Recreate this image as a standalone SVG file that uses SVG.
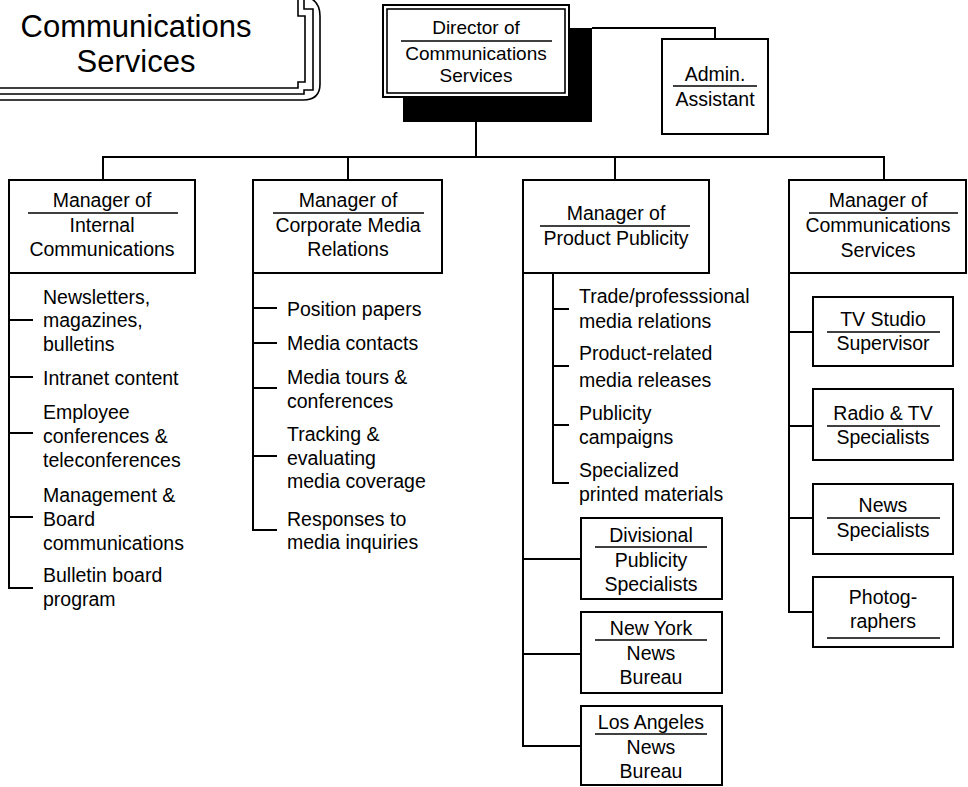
<svg xmlns="http://www.w3.org/2000/svg" width="968" height="787" viewBox="0 0 968 787">
<style>
  text { font-family: "Liberation Sans", Arial, sans-serif; font-size: 19.5px; fill: #000; }
  .c { text-anchor: middle; }
  .box { fill: #fff; stroke: #000; stroke-width: 2; }
  .ln { fill: none; stroke: #000; stroke-width: 2; }
  .ul { stroke: #000; stroke-width: 1.6; }
  .frame { fill: none; stroke: #000; stroke-width: 1.6; }
</style>
<rect width="968" height="787" fill="#fff"/>

<!-- title banner: triple frame with notched right corners -->
<g id="title">
  <path class="frame" d="M -5,88 H 298 V 82 H 305 V 16 H 298 V -5"/>
  <path class="frame" d="M -5,94 H 304 V 90 H 313 V 9 H 304 V -5"/>
  <path class="frame" d="M -5,100 H 303 Q 320,100 320,84 V 16 Q 320,0 305,-4"/>
  <text class="c" x="136" y="37" style="font-size:31px">Communications</text>
  <text class="c" x="136" y="72" style="font-size:31px">Services</text>
</g>

<!-- connectors -->
<g id="connectors" class="ln">
  <path d="M 592,28 H 715 V 39"/>
  <path d="M 476,122 V 157"/>
  <path d="M 103,180 V 157 H 884 V 180"/>
  <path d="M 348,157 V 180"/>
  <path d="M 615,157 V 180"/>
  <!-- internal communications list -->
  <path d="M 9,273 V 588 H 33"/>
  <path d="M 9,320 H 33 M 9,377 H 33 M 9,433 H 33 M 9,517 H 33"/>
  <!-- media relations list -->
  <path d="M 253,273 V 530 H 277"/>
  <path d="M 253,308 H 277 M 253,343 H 277 M 253,388 H 277 M 253,456 H 277"/>
  <!-- product publicity list and units -->
  <path d="M 553,273 V 483 H 569"/>
  <path d="M 553,309 H 569 M 553,366 H 569 M 553,425 H 569"/>
  <path d="M 523,273 V 746 H 581"/>
  <path d="M 523,559 H 581 M 523,654 H 581"/>
  <!-- communications services units -->
  <path d="M 789,273 V 612 H 813"/>
  <path d="M 789,332 H 813 M 789,426 H 813 M 789,518 H 813"/>
</g>

<g id="director">
  <rect x="403" y="28" width="189" height="94" fill="#000"/>
  <rect class="box" x="383" y="5" width="186" height="92"/>
  <rect x="387" y="9" width="178" height="84" fill="none" stroke="#000" stroke-width="1.6"/>
  <text class="c" x="476" y="34" style="font-size:19px">Director of</text>
  <line class="ul" x1="401" y1="41" x2="552" y2="41"/>
  <text class="c" x="476" y="60" style="font-size:19px">Communications</text>
  <text class="c" x="476" y="82" style="font-size:19px">Services</text>
</g>

<g id="admin">
  <rect class="box" x="662" y="39" width="106" height="95"/>
  <text class="c" x="715" y="81">Admin.</text>
  <line class="ul" x1="673" y1="86" x2="757" y2="86"/>
  <text class="c" x="715" y="106">Assistant</text>
</g>

<g id="mgr-internal">
  <rect class="box" x="9" y="180" width="186" height="93"/>
  <text class="c" x="102" y="207">Manager of</text>
  <line class="ul" x1="28" y1="213" x2="178" y2="213"/>
  <text class="c" x="102" y="232">Internal</text>
  <text class="c" x="102" y="256">Communications</text>
</g>

<g id="mgr-media">
  <rect class="box" x="253" y="180" width="189" height="93"/>
  <text class="c" x="348" y="207">Manager of</text>
  <line class="ul" x1="273" y1="213" x2="424" y2="213"/>
  <text class="c" x="348" y="232">Corporate Media</text>
  <text class="c" x="348" y="256">Relations</text>
</g>

<g id="mgr-publicity">
  <rect class="box" x="523" y="180" width="186" height="93"/>
  <text class="c" x="616" y="220">Manager of</text>
  <line class="ul" x1="540" y1="226" x2="690" y2="226"/>
  <text class="c" x="616" y="245">Product Publicity</text>
</g>

<g id="mgr-services">
  <rect class="box" x="789" y="180" width="177" height="93"/>
  <text class="c" x="878" y="207">Manager of</text>
  <line class="ul" x1="809" y1="213" x2="958" y2="213"/>
  <text class="c" x="878" y="232">Communications</text>
  <text class="c" x="878" y="257">Services</text>
</g>

<g id="list-internal">
  <text x="43" y="304">Newsletters,</text>
  <text x="43" y="327">magazines,</text>
  <text x="43" y="351">bulletins</text>
  <text x="43" y="385">Intranet content</text>
  <text x="43" y="419">Employee</text>
  <text x="43" y="443">conferences &amp;</text>
  <text x="43" y="467">teleconferences</text>
  <text x="43" y="502">Management &amp;</text>
  <text x="43" y="526">Board</text>
  <text x="43" y="550">communications</text>
  <text x="43" y="582">Bulletin board</text>
  <text x="43" y="606">program</text>
</g>

<g id="list-media">
  <text x="287" y="316">Position papers</text>
  <text x="287" y="350">Media contacts</text>
  <text x="287" y="384">Media tours &amp;</text>
  <text x="287" y="408">conferences</text>
  <text x="287" y="441">Tracking &amp;</text>
  <text x="287" y="465">evaluating</text>
  <text x="287" y="488">media coverage</text>
  <text x="287" y="526">Responses to</text>
  <text x="287" y="549">media inquiries</text>
</g>

<g id="list-publicity">
  <text x="579" y="303">Trade/professsional</text>
  <text x="579" y="328">media relations</text>
  <text x="579" y="360">Product-related</text>
  <text x="579" y="387">media releases</text>
  <text x="579" y="420">Publicity</text>
  <text x="579" y="444">campaigns</text>
  <text x="579" y="477">Specialized</text>
  <text x="579" y="501">printed materials</text>
</g>

<g id="divisional">
  <rect class="box" x="581" y="518" width="141" height="81"/>
  <text class="c" x="651" y="542">Divisional</text>
  <line class="ul" x1="595" y1="547" x2="707" y2="547"/>
  <text class="c" x="651" y="567">Publicity</text>
  <text class="c" x="651" y="591">Specialists</text>
</g>

<g id="new-york">
  <rect class="box" x="581" y="612" width="141" height="81"/>
  <text class="c" x="651" y="635">New York</text>
  <line class="ul" x1="595" y1="640" x2="707" y2="640"/>
  <text class="c" x="651" y="660">News</text>
  <text class="c" x="651" y="684">Bureau</text>
</g>

<g id="los-angeles">
  <rect class="box" x="581" y="706" width="141" height="79"/>
  <text class="c" x="651" y="729">Los Angeles</text>
  <line class="ul" x1="595" y1="734" x2="707" y2="734"/>
  <text class="c" x="651" y="754">News</text>
  <text class="c" x="651" y="778">Bureau</text>
</g>

<g id="tv-studio">
  <rect class="box" x="813" y="297" width="140" height="69"/>
  <text class="c" x="883" y="326">TV Studio</text>
  <line class="ul" x1="827" y1="332" x2="940" y2="332"/>
  <text class="c" x="883" y="350">Supervisor</text>
</g>

<g id="radio-tv">
  <rect class="box" x="813" y="389" width="140" height="71"/>
  <text class="c" x="883" y="420">Radio &amp; TV</text>
  <line class="ul" x1="827" y1="426" x2="940" y2="426"/>
  <text class="c" x="883" y="444">Specialists</text>
</g>

<g id="news">
  <rect class="box" x="813" y="484" width="140" height="70"/>
  <text class="c" x="883" y="512">News</text>
  <line class="ul" x1="827" y1="518" x2="940" y2="518"/>
  <text class="c" x="883" y="537">Specialists</text>
</g>

<g id="photographers">
  <rect class="box" x="813" y="577" width="140" height="70"/>
  <text class="c" x="883" y="604">Photog-</text>
  <text class="c" x="883" y="628">raphers</text>
  <line class="ul" x1="827" y1="638" x2="940" y2="638"/>
</g>
</svg>
